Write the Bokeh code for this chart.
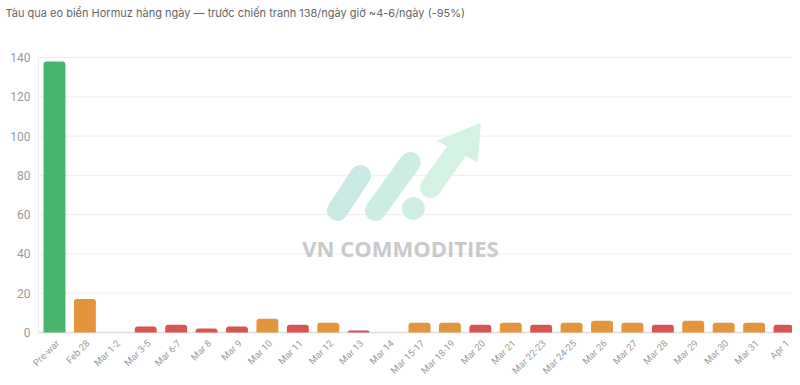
import math
from bokeh.plotting import figure
from bokeh.models import ColumnDataSource, Range1d, Label
from bokeh.core.properties import value
from bokeh.embed import file_html
from bokeh.resources import INLINE

categories = ["Pre-war", "Feb 28", "Mar 1-2", "Mar 3-5", "Mar 6-7", "Mar 8", "Mar 9",
              "Mar 10", "Mar 11", "Mar 12", "Mar 13", "Mar 14", "Mar 15-17", "Mar 18-19",
              "Mar 20", "Mar 21", "Mar 22-23", "Mar 24-25", "Mar 26", "Mar 27", "Mar 28",
              "Mar 29", "Mar 30", "Mar 31", "Apr 1"]
ships = [138, 17, 0, 3, 4, 2, 3, 7, 4, 5, 1, 0, 5, 5, 4, 5, 4, 5, 6, 5, 4, 6, 5, 5, 4]
GREEN, ORANGE, RED = "#48b46c", "#e3953b", "#d9534f"
colors = [GREEN, ORANGE, RED, RED, RED, RED, RED, ORANGE, RED, ORANGE, RED, RED, ORANGE,
          ORANGE, RED, ORANGE, RED, ORANGE, ORANGE, ORANGE, RED, ORANGE, ORANGE, ORANGE, RED]
y_ticks = [0, 20, 40, 60, 80, 100, 120, 140]
y_tick_labels = [str(t) for t in y_ticks]
title_text = "Tàu qua eo biển Hormuz hàng ngày — trước chiến tranh 138/ngày giờ ~4-6/ngày (-95%)"

xs = list(range(len(categories)))
src = ColumnDataSource(dict(x=xs, top=ships, color=colors))
lab_src = ColumnDataSource(dict(x=xs, y=[0] * len(xs), text=categories))

# ranges: the frame covers the whole canvas; the plotting area starts at XL
X0, X1 = -1.775, 24.263
YMIN, YMAX = -22.91, 169.02
XL = -0.526

tick_src = ColumnDataSource(dict(y=y_ticks, text=y_tick_labels,
                                 x0=[XL] * len(y_ticks), x1=[X1] * len(y_ticks)))

p = figure(width=792, height=377, output_backend="svg", toolbar_location=None,
           x_range=Range1d(X0, X1), y_range=Range1d(YMIN, YMAX),
           x_axis_location=None, y_axis_location=None, min_border=0)
p.outline_line_color = None
p.background_fill_color = "white"
p.grid.visible = False

# title
p.text(x=[X0], y=[YMAX], text=[title_text], text_align="left", text_baseline="top",
       x_offset=5, y_offset=5, text_font=value("Inter"), text_font_size="11px",
       text_color="#666666")

# gridlines and y tick labels
p.segment(x0="x0", y0="y", x1="x1", y1="y", source=tick_src, line_color="#eeeeee", line_width=1)
p.text(x="x0", y="y", text="text", source=tick_src, text_align="right", text_baseline="middle",
       x_offset=-8, text_font=value("Roboto"), text_font_size="12px", text_color="#9a9a9a")

# watermark logo (decorative)
p.multi_line(xs=[[9.30, 10.06], [10.55, 11.70], [12.36, 13.18]],
             ys=[[62.1, 79.9], [62.1, 86.6], [73.8, 91.6]],
             line_width=21, line_cap="round", line_color=["#c9e9e4", "#cdece2", "#d4f2e4"])
p.scatter(x=[11.80], y=[63.1], size=22, color="#cfeee2")
p.patch(x=[12.60, 13.90, 14.00], y=[97.5, 87.0, 106.4], color="#d4f2e4")
p.add_layout(Label(x=11.375, y=43, text="VN COMMODITIES", text_align="center",
                   text_baseline="middle", text_font="Open Sans", text_font_style="bold",
                   text_font_size="22px", text_color="#c9c9c9"))

# axis lines
p.segment(x0=[XL], y0=[0], x1=[XL], y1=[y_ticks[-1]], line_color="#eeeeee", line_width=1)
p.segment(x0=[XL], y0=[0], x1=[X1], y1=[0], line_color="#dddddd", line_width=1.5)

p.vbar(x="x", top="top", width=0.72, fill_color="color", line_color=None,
       border_radius=[3, 3, 0, 0], source=src)

p.text(x="x", y="y", text="text", source=lab_src, angle=math.pi / 4,
       text_align="right", text_baseline="middle", x_offset=3, y_offset=9,
       text_font=value("Roboto"), text_font_size="9.5px", text_color="#9a9a9a")

open("out.html", "w").write(file_html(p, INLINE))
